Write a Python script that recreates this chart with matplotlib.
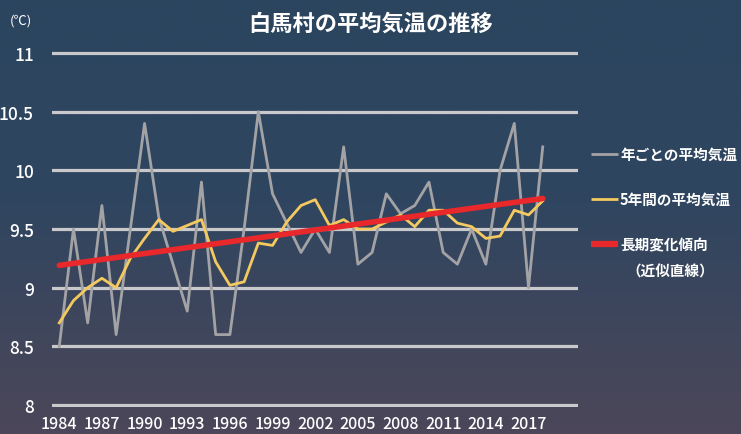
import numpy as np
import matplotlib
matplotlib.use('Agg')
import matplotlib.pyplot as plt
from matplotlib.colors import LinearSegmentedColormap
from matplotlib.lines import Line2D

plt.rcParams['font.family'] = ['Noto Sans CJK JP', 'DejaVu Sans']

# データ
years = list(range(1984, 2019))
annual = [8.5, 9.5, 8.7, 9.7, 8.6, 9.5, 10.4, 9.6, 9.2, 8.8,
          9.9, 8.6, 8.6, 9.5, 10.5, 9.8, 9.55, 9.3, 9.5, 9.3,
          10.2, 9.2, 9.3, 9.8, 9.63, 9.7, 9.9, 9.3, 9.2, 9.5,
          9.2, 10.0, 10.4, 9.0, 10.2]
avg5 = [8.70, 8.89, 9.0, 9.08, 9.0, 9.25, 9.42, 9.58, 9.48, 9.53,
        9.58, 9.22, 9.02, 9.05, 9.38, 9.36, 9.56, 9.70, 9.75, 9.53,
        9.58, 9.50, 9.50, 9.56, 9.62, 9.52, 9.66, 9.66, 9.55, 9.52,
        9.42, 9.44, 9.66, 9.62, 9.74]
trend_years = [1984, 2018]
trend_vals = [9.19, 9.76]
xticks = list(range(1984, 2018, 3))
yticks = [8, 8.5, 9, 9.5, 10, 10.5, 11]
ytick_labels = ['8', '8.5', '9', '9.5', '10', '10.5', '11']
labels = ['年ごとの平均気温', '5年間の平均気温', '長期変化傾向']

W, H = 741, 435
fig = plt.figure(figsize=(W / 100, H / 100), dpi=100)

# 背景グラデーション
bg = fig.add_axes([0, 0, 1, 1], zorder=-10)
cmap = LinearSegmentedColormap.from_list('bg', [(0, '#2c455f'), (0.45, '#2f4560'), (1, '#4c4759')])
bg.imshow(np.linspace(0, 1, 256).reshape(-1, 1), aspect='auto', cmap=cmap, extent=[0, 1, 0, 1], origin='upper')
bg.axis('off')

x0, x1 = 1983.49, 2020.48
ax = fig.add_axes([52 / W, (H - 408) / H, (578 - 52) / W, (408 - 52) / H])
ax.set_xlim(x0, x1)
ax.set_ylim(8 - 2 / 117.4, 11 + 2 / 117.4)
ax.patch.set_alpha(0)
for s in ax.spines.values():
    s.set_visible(False)

for yv in yticks:
    ax.axhline(yv, color='#c9c9cb', lw=2.3, zorder=1)

ax.plot(years, annual, color='#a3a3a6', lw=2, zorder=2)
ax.plot(years, avg5, color='#f4c960', lw=2, zorder=3)
ax.plot(trend_years, trend_vals, color='#e8282b', lw=4, solid_capstyle='round', zorder=4)

ax.set_yticks(yticks)
ax.set_yticklabels(ytick_labels)
ax.set_xticks(xticks)
ax.set_xticklabels([str(y) for y in xticks])
ax.tick_params(axis='y', length=0, pad=13, labelsize=12.5, labelcolor='white')
ax.tick_params(axis='x', length=0, pad=6, labelsize=11.5, labelcolor='white')
for t in ax.get_xticklabels() + ax.get_yticklabels():
    t.set_fontweight('medium')

fig.text(371 / W, 1 - 24 / H, '白馬村の平均気温の推移', color='white', fontsize=16,
         fontweight='bold', ha='center', va='center')
fig.text(10 / W, 1 - 21 / H, '(℃)', color='white', fontsize=9.5, ha='left', va='center')

# 凡例
leg_y = [155, 200, 245]
leg_col = ['#a3a3a6', '#f4c960', '#e8282b']
leg_lw = [2, 2, 4.5]
for yy, c, lw, lab in zip(leg_y, leg_col, leg_lw, labels):
    fig.add_artist(Line2D([591 / W, 618 / W], [1 - yy / H, 1 - yy / H], color=c, lw=lw,
                          solid_capstyle='butt'))
    fig.text(620 / W, 1 - yy / H, lab, color='white', fontsize=10.5, fontweight='bold',
             ha='left', va='center')
fig.text(626 / W, 1 - 272 / H, '（近似直線）', color='white', fontsize=10.5, fontweight='bold',
         ha='left', va='center')

fig.savefig('out.png', dpi=100)
